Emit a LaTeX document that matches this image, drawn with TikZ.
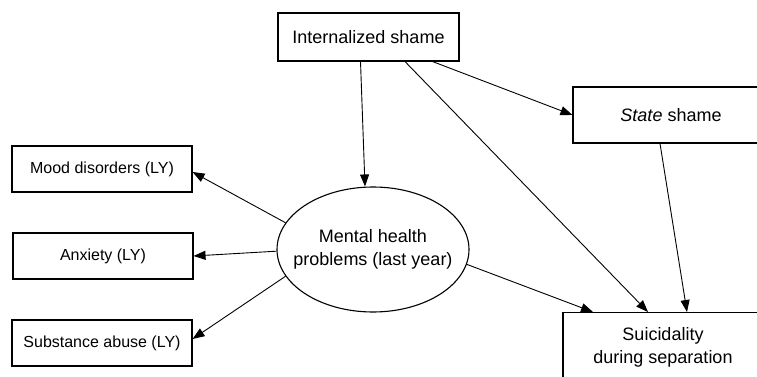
\documentclass[tikz,border=0pt]{standalone}
\usepackage{fontspec}
\setmainfont{Liberation Sans}
\usetikzlibrary{arrows.meta,shapes.geometric}
\begin{document}
\begin{tikzpicture}[x=1pt,y=-1pt,
  bigbox/.style={draw,line width=1.1pt,rectangle,inner sep=0pt,align=center,font=\fontsize{18}{23}\selectfont},
  smallbox/.style={draw,line width=1.1pt,rectangle,inner sep=0pt,align=center,font=\fontsize{16}{20}\selectfont,minimum width=180pt,minimum height=46pt},
  oval/.style={draw,line width=1.1pt,ellipse,inner xsep=-14pt,inner ysep=0pt,align=center,font=\fontsize{18}{23}\selectfont,minimum width=192pt,minimum height=125pt},
  arr/.style={-{Triangle[length=12pt,width=9pt]},line width=0.9pt}]
\useasboundingbox (0,0) rectangle (757,377);
\clip (0,0) rectangle (757,377);
\node[bigbox,minimum width=181pt,minimum height=48pt] (int) at (368.5,37) {Internalized shame};
\node[bigbox,minimum width=196pt,minimum height=56pt] (state) at (671,115) {\textit{State} shame};
\node[bigbox,minimum width=200pt,minimum height=70pt,anchor=north] (suic) at (663,312) {Suicidality\\during separation};
\node[oval] (mh) at (373,249.5) {Mental health\\problems (last year)};
\node[smallbox] (mood) at (102,169) {Mood disorders (LY)};
\node[smallbox] (anx) at (103,256) {Anxiety (LY)};
\node[smallbox] (sub) at (102,343) {Substance abuse (LY)};
\draw[arr] ([xshift=-8pt]int.south) -- ([xshift=-8pt]mh.north);
\draw[arr] ([xshift=-27pt]int.south east) -- (state.west);
\draw[arr] ([xshift=36.5pt]int.south) -- ([xshift=-15pt]suic.north);
\draw[arr] ([xshift=-11pt]state.south) -- ([xshift=24pt]suic.north);
\draw[arr] (mh.-9) -- ([xshift=-70pt]suic.north);
\draw[arr] (mh.163.6) -- ([yshift=-3pt]mood.east);
\draw[arr] (mh.181) -- (anx.east);
\draw[arr] (mh.197.4) -- ([yshift=4pt]sub.east);
\end{tikzpicture}
\end{document}
